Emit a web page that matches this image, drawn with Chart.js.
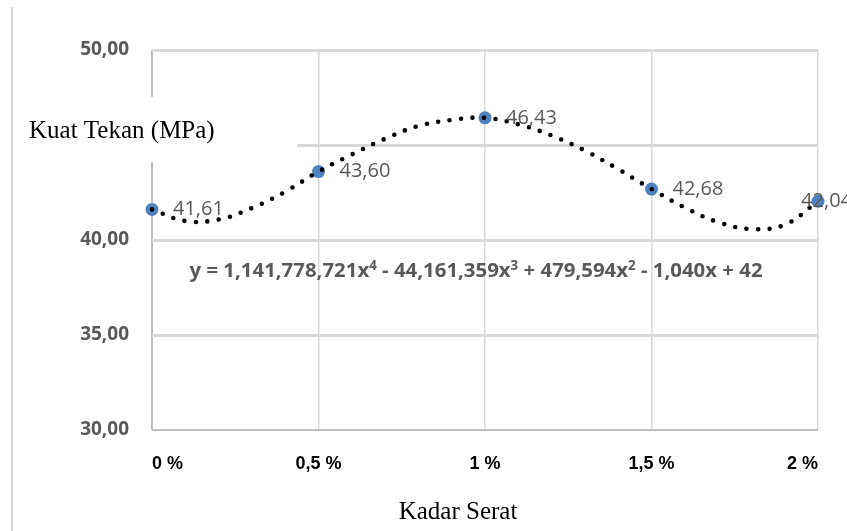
<!DOCTYPE html>
<html>
<head>
<meta charset="utf-8">
<script src="https://cdn.jsdelivr.net/npm/chart.js@4.4.0/dist/chart.umd.min.js"></script>
<style>
  html, body { margin: 0; padding: 0; background: #fff; }
  canvas { display: block; }
</style>
</head>
<body>
<canvas id="kuatChart" width="847" height="531"></canvas>
<script>
// Data
const X_LABELS = ['0 %', '0,5 %', '1 %', '1,5 %', '2 %'];
const POINT_X = [0, 0.5, 1, 1.5, 2];
const KUAT_TEKAN = [41.61, 43.60, 46.43, 42.68, 42.04];
const DATA_LABELS = ['41,61', '43,60', '46,43', '42,68', '42,04'];

// polynomial trendline, sampled off the dotted curve
const TREND_X = [0, 0.1, 0.2, 0.3, 0.4, 0.5, 0.6, 0.7, 0.8, 0.9, 1.0,
                 1.1, 1.2, 1.3, 1.4, 1.5, 1.6, 1.7, 1.8, 1.9, 2.0];
const TREND_Y = [41.61, 41.00, 41.08, 41.68, 42.54, 43.60, 44.50, 45.33, 46.00, 46.32, 46.43,
                 46.09, 45.50, 44.70, 43.73, 42.68, 41.71, 40.94, 40.58, 40.80, 42.04];

const EQUATION = [
    ['y = 1,141,778,721x', false], ['4', true],
    [' - 44,161,359x', false], ['3', true],
    [' + 479,594x', false], ['2', true],
    [' - 1,040x + 42', false]
];

const COLORS = {
    POINT: '#4f81bd',
    GRID: '#d9d9d9',
    AXIS: '#bfbfbf',
    TEXT: '#595959'
};
const SERIF = '"Liberation Serif", "Times New Roman", serif';
const SANS = '"Open Sans", "Liberation Sans", sans-serif';

// Extra drawing: border, axis titles, equation and value labels
const decorPlugin = {
    id: 'decor',
    afterDatasetsDraw(chart) {
        const ctx = chart.ctx;
        const meta = chart.getDatasetMeta(1);
        ctx.save();
        // value labels next to points
        ctx.font = '20px ' + SANS;
        ctx.fillStyle = COLORS.TEXT;
        ctx.textBaseline = 'middle';
        ctx.textAlign = 'left';
        meta.data.forEach((pt, i) => {
            const w = ctx.measureText(DATA_LABELS[i]).width;
            let x = pt.x + 21;
            if (x + w > chart.width) x = chart.width - w + 5;
            ctx.fillText(DATA_LABELS[i], x, pt.y);
        });
        ctx.restore();
    },
    afterDraw(chart) {
        const ctx = chart.ctx;
        ctx.save();
        // outer left border
        ctx.strokeStyle = COLORS.GRID;
        ctx.lineWidth = 2;
        ctx.beginPath();
        ctx.moveTo(12, 7);
        ctx.lineTo(12, chart.height);
        ctx.stroke();

        // y axis title box sits over the 45 line
        ctx.fillStyle = '#fff';
        ctx.fillRect(20, 97, 277, 65);
        ctx.fillStyle = '#000';
        ctx.font = '25px ' + SERIF;
        ctx.textAlign = 'left';
        ctx.textBaseline = 'alphabetic';
        ctx.fillText('Kuat Tekan (MPa)', 29, 138);

        // x axis title
        ctx.textAlign = 'center';
        ctx.fillText('Kadar Serat', 458, 519);

        // trendline equation
        const size = 20;
        const supSize = 13;
        let total = 0;
        EQUATION.forEach(([t, sup]) => {
            ctx.font = 'bold ' + (sup ? supSize : size) + 'px ' + SANS;
            total += ctx.measureText(t).width;
        });
        const scale = 573 / total;
        let x = 476 - 573 / 2;
        ctx.fillStyle = COLORS.TEXT;
        ctx.textAlign = 'left';
        ctx.textBaseline = 'alphabetic';
        EQUATION.forEach(([t, sup]) => {
            const fs = (sup ? supSize : size) * scale;
            ctx.font = 'bold ' + fs.toFixed(1) + 'px ' + SANS;
            ctx.fillText(t, x, sup ? 270 : 277);
            x += ctx.measureText(t).width;
        });
        ctx.restore();
    }
};

const trendData = TREND_X.map((x, i) => ({ x: x, y: TREND_Y[i] }));
const pointData = POINT_X.map((x, i) => ({ x: x, y: KUAT_TEKAN[i] }));

new Chart(document.getElementById('kuatChart'), {
    type: 'scatter',
    data: {
        datasets: [{
            label: 'Poly. (Kuat Tekan)',
            type: 'line',
            data: trendData,
            borderColor: '#000',
            borderWidth: 4.6,
            borderDash: [0, 11.5],
            borderCapStyle: 'round',
            tension: 0.4,
            pointRadius: 0,
            fill: false,
            clip: false,
            order: 0
        }, {
            label: 'Kuat Tekan',
            data: pointData,
            backgroundColor: COLORS.POINT,
            borderColor: COLORS.POINT,
            borderWidth: 0,
            pointRadius: 6.5,
            clip: false,
            order: 1
        }]
    },
    options: {
        responsive: false,
        animation: false,
        events: [],
        layout: { padding: { top: 50, right: 29, left: 0, bottom: 0 } },
        plugins: {
            legend: { display: false },
            tooltip: { enabled: false }
        },
        scales: {
            x: {
                type: 'linear',
                min: 0,
                max: 2,
                afterFit(scale) { scale.height = 101; },
                border: { display: false },
                grid: {
                    drawTicks: false,
                    color: (c) => c.tick && c.tick.value === 0 ? COLORS.AXIS : COLORS.GRID,
                    lineWidth: (c) => c.tick && c.tick.value === 0 ? 2 : 1.5
                },
                ticks: {
                    stepSize: 0.5,
                    align: 'inner',
                    maxRotation: 0,
                    padding: 23,
                    color: '#000',
                    font: { family: '"Liberation Sans", sans-serif', size: 18, weight: 'bold' },
                    callback: (v) => X_LABELS[Math.round(v * 2)]
                }
            },
            y: {
                min: 30,
                max: 50,
                afterFit(scale) { scale.width = 152; },
                border: { display: false },
                grid: {
                    drawTicks: false,
                    color: (c) => c.tick && c.tick.value === 30 ? COLORS.AXIS : COLORS.GRID,
                    lineWidth: (c) => c.tick && c.tick.value === 30 ? 2 : 3
                },
                ticks: {
                    stepSize: 5,
                    padding: 23,
                    color: COLORS.TEXT,
                    font: { family: SANS, size: 19, weight: 'bold' },
                    callback: (v) => v.toFixed(2).replace('.', ',')
                }
            }
        }
    },
    plugins: [decorPlugin]
});
</script>
</body>
</html>
